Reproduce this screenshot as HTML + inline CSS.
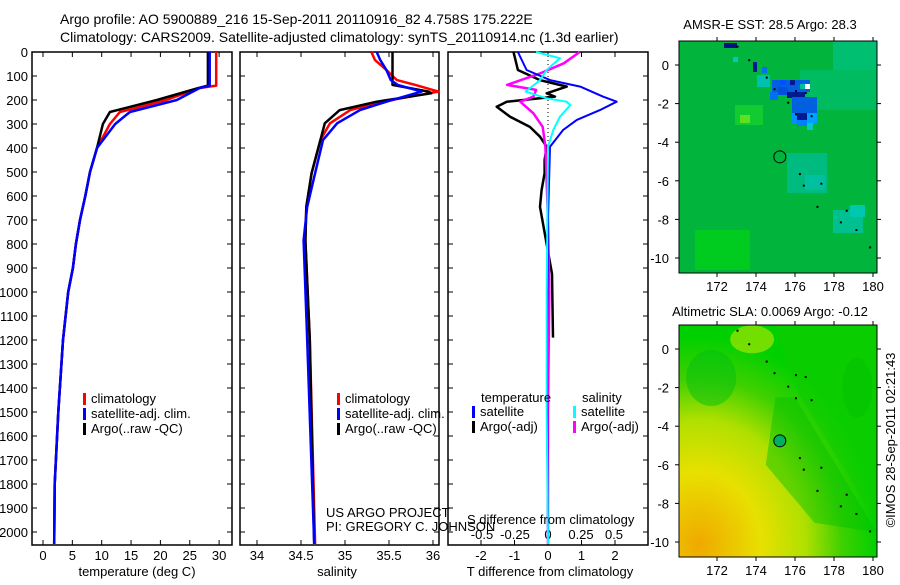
<!DOCTYPE html>
<html><head><meta charset="utf-8"><style>
body{margin:0;background:#fff;width:900px;height:580px;overflow:hidden}
svg text{font-family:"Liberation Sans",Arial,sans-serif;font-size:13px;fill:#000}
</style></head><body>
<svg id="chart" width="900" height="580" xmlns="http://www.w3.org/2000/svg">
<text x="60" y="24" style="font-size:14px">Argo profile: AO 5900889_216 15-Sep-2011 20110916_82 4.758S 175.222E</text>
<text x="60" y="42" style="font-size:14px">Climatology: CARS2009. Satellite-adjusted climatology: synTS_20110914.nc (1.3d earlier)</text>
<g id="p1"></g>
<g id="p2"></g>
<g id="p3"></g>
<g id="m1"></g>
<g id="m2"></g>
<text x="770" y="29" text-anchor="middle">AMSR-E SST: 28.5 Argo: 28.3</text>
<text x="770" y="316" text-anchor="middle">Altimetric SLA: 0.0069 Argo: -0.12</text>
<text transform="translate(895,440) rotate(-90)" text-anchor="middle">©IMOS 28-Sep-2011 02:21:43</text>
</svg>
<script>
// ---- data ----
const depthTicks=[0,100,200,300,400,500,600,700,800,900,1000,1100,1200,1300,1400,1500,1600,1700,1800,1900,2000];
const tTicks=[0,5,10,15,20,25,30];
const sTicks=[34,34.5,35,35.5,36];
const dTTicks=[-2,-1,0,1,2];
const dSTicks=[-0.5,-0.25,0,0.25,0.5];
const tDepth=[0,140,150,200,250,300,400,500,600,700,800,900,1000,1200,1500,1800,2050];
const tClim=[29.5,29.5,26.7,21.0,13.1,11.4,9.2,8.0,7.2,6.3,5.6,5.1,4.3,3.4,2.6,2.0,1.9];
const tSat=[28.4,28.4,26.7,22.8,14.8,12.3,9.2,8.0,7.2,6.3,5.6,5.1,4.3,3.4,2.6,2.0,1.9];
const tArgo=[28.1,28.1,26.5,19.4,11.4,10.2,9.2,8.0,7.2,6.3,5.6,5.1,4.3,3.4,2.6,2.0,1.9];
const sDepth=[0,33,75,117,137,165,172,207,242,297,367,505,645,785,1200,2050];
const sClim=[35.30,35.34,35.47,35.59,35.8,36.06,35.95,35.43,35.06,34.83,34.72,34.62,34.56,34.55,34.6,34.66];
const sSat=[35.36,35.40,35.47,35.52,35.6,35.87,35.8,35.47,35.17,34.91,34.75,34.66,34.57,34.53,34.57,34.65];
const sArgo=[35.54,35.54,35.54,35.54,35.54,35.95,35.98,35.36,34.94,34.77,34.72,34.62,34.56,34.55,34.6,34.65];
const dtDepth=[0,75,117,144,172,186,207,228,270,312,353,395,450,505,575,645,785,924,1190];
const dtArgo=[-1.03,-0.9,-0.24,0.56,-0.04,0.21,-1.23,-1.53,-1.13,-0.54,-0.24,-0.04,-0.1,-0.1,-0.19,-0.24,-0.06,0.12,0.15];
const dsDepth=[0,47,89,137,158,186,207,256,312,395,700,1000,1500,2050];
const dsArgo=[0.24,0.12,-0.06,-0.31,-0.09,-0.11,-0.21,-0.11,-0.04,-0.02,0.0,0.01,0.0,0.0];
const dtsDepth=[0,75,117,144,186,207,242,283,325,395,700,1200,1600,2050];
const dtSat=[-0.9,-0.64,0.06,0.96,1.64,2.05,1.55,0.86,0.45,0.06,0.0,-0.03,-0.02,0.0];
const dssDepth=[0,26,75,117,165,193,207,221,270,325,395,1000,1500,2050];
const dsSat=[-0.09,0.09,-0.01,-0.06,-0.17,-0.01,0.14,0.17,0.09,0.04,0.0,-0.01,-0.01,0.0];

// ---- helpers ----
const NS="http://www.w3.org/2000/svg";
function mk(parent,tag,attrs,name){const e=document.createElementNS(NS,tag);for(const k in attrs)e.setAttribute(k,attrs[k]);


parent.appendChild(e);return e;}
const yD=d=>52+d*0.24;
const TOP=52,BOT=545;
const xT=v=>43+v*5.87;
const xS=v=>257+(v-34)*88;
const xdT=v=>548+v*33.5;
const xdS=v=>548+v*132;
function frame(g,x0,x1,name){mk(g,'rect',{x:x0,y:TOP,width:x1-x0,height:BOT-TOP,fill:'none',stroke:'#000','stroke-width':1.5},name);}
function yTicks(g,x0,x1,labels){depthTicks.forEach(d=>{const y=yD(d);
mk(g,'line',{x1:x0,x2:x0+5,y1:y,y2:y,stroke:'#000'},'y-tick');
mk(g,'line',{x1:x1-5,x2:x1,y1:y,y2:y,stroke:'#000'},'y-tick');
if(labels){const t=mk(g,'text',{x:x0-4,y:y+5,'text-anchor':'end'},'depth-tick-label');t.textContent=d;}});}
function xTicks(g,vals,fx,yl,fmt){vals.forEach(v=>{const x=fx(v);
mk(g,'line',{x1:x,x2:x,y1:TOP,y2:TOP+5,stroke:'#000'},'x-tick');
mk(g,'line',{x1:x,x2:x,y1:BOT-5,y2:BOT,stroke:'#000'},'x-tick');
const t=mk(g,'text',{x:x,y:yl,'text-anchor':'middle'},'x-tick-label');t.textContent=fmt?fmt(v):v;});}
function line(g,ds,vs,fx,color,name,w){const p=ds.map((d,i)=>fx(vs[i]).toFixed(1)+','+yD(d).toFixed(1)).join(' ');
mk(g,'polyline',{points:p,fill:'none',stroke:color,'stroke-width':w||2.5,'stroke-linejoin':'round'},name);}
function legend(g,x,y,items){items.forEach((it,i)=>{mk(g,'rect',{x:x,y:y+i*15-10,width:3,height:12,fill:it[1]},'legend-swatch');
const t=mk(g,'text',{x:x+8,y:y+i*15},'legend-entry');t.textContent=it[0];});}

// panel 1
const p1=document.getElementById('p1');
frame(p1,32,232,'temperature-axes');yTicks(p1,32,232,true);xTicks(p1,tTicks,xT,560);
line(p1,tDepth,tClim,xT,'#f00','climatology-temp-line');
line(p1,tDepth,tArgo,xT,'#000','argo-temp-line');
line(p1,tDepth,tSat,xT,'#00f','satellite-temp-line');
legend(p1,83,403,[['climatology','#f00'],['satellite-adj. clim.','#00f'],['Argo(..raw -QC)','#000']]);
mk(p1,'text',{x:137,y:576,'text-anchor':'middle'},'temperature-axis-title').textContent='temperature (deg C)';

// panel 2
const p2=document.getElementById('p2');
frame(p2,240,439,'salinity-axes');yTicks(p2,240,439,false);xTicks(p2,sTicks,xS,560);
line(p2,sDepth,sClim,xS,'#f00','climatology-salinity-line');
line(p2,sDepth,sArgo,xS,'#000','argo-salinity-line');
line(p2,sDepth,sSat,xS,'#00f','satellite-salinity-line');
legend(p2,337,403,[['climatology','#f00'],['satellite-adj. clim.','#00f'],['Argo(..raw -QC)','#000']]);
mk(p2,'text',{x:326,y:517},'project-label').textContent='US ARGO PROJECT';
mk(p2,'text',{x:326,y:531},'pi-label').textContent='PI: GREGORY C. JOHNSON';
mk(p2,'text',{x:337,y:576,'text-anchor':'middle'},'salinity-axis-title').textContent='salinity';

// panel 3
const p3=document.getElementById('p3');
frame(p3,448,648,'difference-axes');yTicks(p3,448,648,false);xTicks(p3,dTTicks,xdT,560);
dSTicks.forEach(v=>{mk(p3,'text',{x:xdS(v),y:539,'text-anchor':'middle'},'s-diff-tick-label').textContent=v;});
mk(p3,'line',{x1:548,x2:548,y1:TOP,y2:BOT,stroke:'#000','stroke-dasharray':'1,3'},'zero-line');
line(p3,dtDepth,dtArgo,xdT,'#000','argo-temp-diff-line');
line(p3,dsDepth,dsArgo,xdS,'#f0f','argo-salinity-diff-line');
line(p3,dtsDepth,dtSat,xdT,'#00f','satellite-temp-diff-line',2);
line(p3,dssDepth,dsSat,xdS,'#0ff','satellite-salinity-diff-line',2);
mk(p3,'text',{x:481,y:402},'temp-legend-heading').textContent='temperature';
mk(p3,'text',{x:582,y:402},'salinity-legend-heading').textContent='salinity';
legend(p3,472,416,[['satellite','#00f'],['Argo(-adj)','#000']]);
legend(p3,573,416,[['satellite','#0ff'],['Argo(-adj)','#f0f']]);
mk(p3,'text',{x:467,y:524},'s-diff-axis-title').textContent='S difference from climatology';
mk(p3,'text',{x:550,y:576,'text-anchor':'middle'},'t-diff-axis-title').textContent='T difference from climatology';

// maps
const lonTicks=[172,174,176,178,180];const latTicks=[0,-2,-4,-6,-8,-10];
const islands=[[173,1],[173.6,0.3],[174.5,-0.6],[174.9,-1.2],[175.6,-1.9],[176,-1.3],[176.5,-1.4],[176,-2.5],[176.8,-2.6],[176.2,-5.6],[176.4,-6.2],[177.3,-6.1],[177.1,-7.3],[178.6,-7.5],[178.3,-8.1],[179.1,-8.5],[179.8,-9.4]];
// SST patches in pixel space [x,y,w,h,color]
const sstPatches=[[833,41,44,60,'#00bf70'],[800,70,77,40,'#00bb60'],[700,270,40,0,'#00cc20'],
[787,153,40,40,'#00bb80'],[805,175,20,15,'#00c0a0'],[833,210,30,23,'#00c090'],[850,205,15,12,'#00c8b0'],
[735,105,28,20,'#10cc30'],[740,115,10,8,'#60e020'],[695,230,55,40,'#00cc20'],
[724,43,13,5,'#001080'],[733,57,5,5,'#00c8c8'],[753,62,4,10,'#001890'],[762,67,5,6,'#0070f0'],
[757,75,13,12,'#00c0b0'],[772,80,38,12,'#0060e0'],[780,80,6,5,'#0050ff'],[790,80,5,5,'#001890'],[778,87,10,8,'#0050e0'],
[787,92,18,6,'#001890'],[800,84,6,5,'#00c0a0'],[805,84,5,5,'#ffffff'],
[792,97,25,16,'#0060e0'],[797,113,15,7,'#001890'],[792,113,5,10,'#0090ff'],[807,113,10,10,'#00a0ff'],[797,120,10,6,'#0080ff'],[807,123,6,7,'#00c8c8'],[770,92,8,8,'#0070f0']];
function map(id,top,kind){const g=document.getElementById(id);const L=679,R=877,B=top+232;
const x=lon=>717+(lon-172)*19.5, y=lat=>top+24-lat*19.3;
const defs=mk(g,'defs',{},'defs');
if(kind==='sst'){
mk(g,'rect',{x:L,y:top,width:R-L,height:B-top,fill:'#00b43c'},'sst-background');
sstPatches.forEach(p=>{if(p[3]>0)mk(g,'rect',{x:p[0],y:p[1],width:p[2],height:p[3],fill:p[4]},'sst-patch');});
}else{
const gr=mk(defs,'radialGradient',{id:'hot',cx:'0.1',cy:'0.95',r:'0.9'},'gradient');
[['0','#f0a800'],['0.35','#e8e000'],['0.6','#b0e000'],['0.8','#40d000'],['1','#00d000']].forEach(s=>mk(gr,'stop',{offset:s[0],'stop-color':s[1]},'gradient-stop'));
mk(g,'rect',{x:L,y:top,width:R-L,height:B-top,fill:'url(#hot)'},'sla-background');
mk(g,'polygon',{points:`${x(175)},${top} ${x(176)},${y(-2)} ${x(180.2)},${y(-9)} ${x(180.2)},${top}`,fill:'#10cc00',opacity:0.6},'sla-patch');
mk(g,'polygon',{points:`${x(175)},${y(-2.5)} ${x(176)},${y(-2.5)} ${x(180.2)},${y(-9.5)} ${x(177)},${y(-9)} ${x(174.5)},${y(-6)}`,fill:'#00c000',opacity:0.45},'sla-patch');
mk(g,'ellipse',{cx:x(171.7),cy:y(-1.5),rx:25,ry:28,fill:'#00c010',opacity:0.5},'sla-patch');
mk(g,'ellipse',{cx:x(179.2),cy:y(-2),rx:15,ry:30,fill:'#00c000',opacity:0.5},'sla-patch');
mk(g,'ellipse',{cx:x(173.8),cy:y(0.5),rx:22,ry:14,fill:'#c0ea00',opacity:0.6},'sla-patch');
}
islands.forEach(p=>mk(g,'rect',{x:x(p[0]),y:y(p[1]),width:2,height:2,fill:'#000'},'island'));
mk(g,'circle',{cx:x(175.222),cy:y(-4.758),r:6,fill:kind==='sst'?'none':'#00b060',stroke:'#000','stroke-width':1},'float-position-marker');
mk(g,'rect',{x:L,y:top,width:R-L,height:B-top,fill:'none',stroke:'#000','stroke-width':1},'map-frame');
lonTicks.forEach(v=>{mk(g,'line',{x1:x(v),x2:x(v),y1:top,y2:top-4,stroke:'#000'},'lon-tick');mk(g,'line',{x1:x(v),x2:x(v),y1:B,y2:B+4,stroke:'#000'},'lon-tick');
mk(g,'text',{x:x(v),y:B+18,'text-anchor':'middle'},'lon-tick-label').textContent=v;});
latTicks.forEach(v=>{mk(g,'line',{x1:L,x2:L-4,y1:y(v),y2:y(v),stroke:'#000'},'lat-tick');mk(g,'line',{x1:R,x2:R+4,y1:y(v),y2:y(v),stroke:'#000'},'lat-tick');
mk(g,'text',{x:L-10,y:y(v)+5,'text-anchor':'end'},'lat-tick-label').textContent=v;});
}
map('m1',41,'sst');map('m2',325,'sla');
</script>
</body></html>
